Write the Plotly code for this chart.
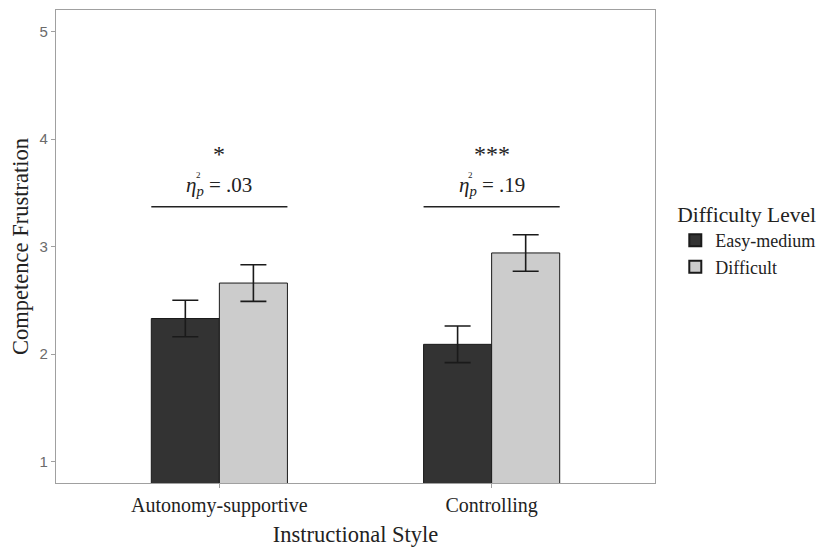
import plotly.graph_objects as go

styles = ["Autonomy-supportive", "Controlling"]
easy_vals = [2.33, 2.09]
easy_err = [0.17, 0.17]
diff_vals = [2.66, 2.94]
diff_err = [0.17, 0.17]
stars = ["*", "***"]
eta_labels = ["= .03", "= .19"]
bracket_y = 3.37
eta_y = 3.56
star_y = 3.86

serif = "Liberation Serif, Times New Roman, serif"
sans = "Liberation Sans, Arial, sans-serif"

fig = go.Figure()
fig.add_trace(go.Bar(
    x=styles, y=easy_vals, name="Easy-medium",
    marker=dict(color="#333333", line=dict(color="#1a1a1a", width=1)),
    error_y=dict(type="data", array=easy_err, color="#1a1a1a", thickness=1.6, width=13),
))
fig.add_trace(go.Bar(
    x=styles, y=diff_vals, name="Difficult",
    marker=dict(color="#CCCCCC", line=dict(color="#1a1a1a", width=1)),
    error_y=dict(type="data", array=diff_err, color="#1a1a1a", thickness=1.6, width=13),
))

for i in range(len(styles)):
    fig.add_shape(type="line", xref="x", yref="y", x0=i - 0.25, x1=i + 0.25,
                  y0=bracket_y, y1=bracket_y, line=dict(color="#222222", width=1.3))
    fig.add_annotation(x=i, y=star_y, text=stars[i], showarrow=False,
                       font=dict(family=serif, size=24, color="#222222"))
    fig.add_annotation(x=i, y=eta_y, text="<i>η<sub>p</sub></i> " + eta_labels[i],
                       showarrow=False, font=dict(family=serif, size=21, color="#222222"))
    fig.add_annotation(x=i, y=eta_y, text="2", showarrow=False, xshift=-21, yshift=11,
                       font=dict(family=serif, size=9, color="#222222"))

fig.update_layout(
    width=831, height=559,
    margin=dict(l=48, r=184, t=2, b=84, autoexpand=False),
    paper_bgcolor="white", plot_bgcolor="white",
    barmode="group", bargap=0.5, bargroupgap=0,
    showlegend=True,
    legend=dict(
        title=dict(text="Difficulty Level", font=dict(family=serif, size=21.5, color="#222222")),
        font=dict(family=serif, size=18, color="#222222"),
        xref="container", yref="container",
        x=0.803, y=0.667, xanchor="left", yanchor="top",
        tracegroupgap=0, itemsizing="constant",
    ),
    xaxis=dict(
        title=dict(text="Instructional Style", font=dict(family=serif, size=22.5, color="#222222"), standoff=10),
        tickfont=dict(family=serif, size=20, color="#222222"),
        range=[-0.6, 1.6], automargin=False,
        showline=True, mirror=True, linecolor="#A0A0A0", linewidth=1.2,
        ticks="outside", ticklen=4, tickcolor="#A0A0A0",
        showgrid=False,
    ),
    yaxis=dict(
        title=dict(text="Competence Frustration", font=dict(family=serif, size=22.5, color="#222222"), standoff=6),
        tickfont=dict(family=sans, size=15, color="#6b6b6b"),
        range=[0.8, 5.2], tickvals=[1, 2, 3, 4, 5], automargin=False,
        showline=True, mirror=True, linecolor="#A0A0A0", linewidth=1.2,
        ticks="outside", ticklen=4, tickcolor="#A0A0A0",
        showgrid=False, zeroline=False,
    ),
)

fig.write_html("out.html")
